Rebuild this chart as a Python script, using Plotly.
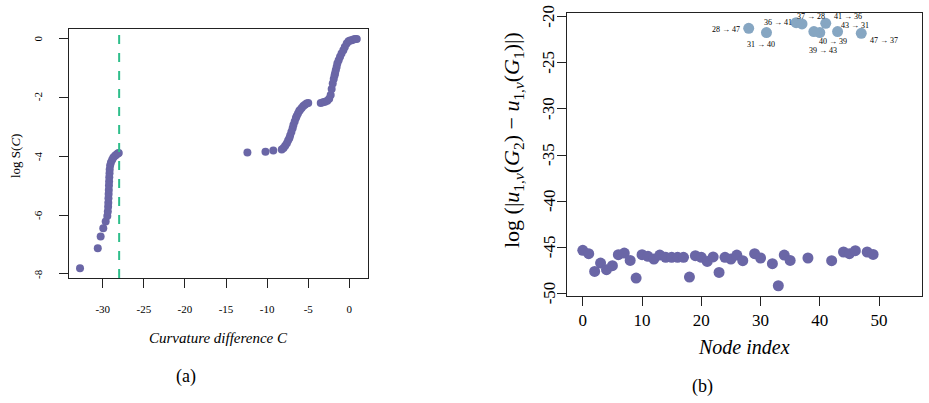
import plotly.graph_objects as go

# ---------------- data (a) ----------------
curv_diff = [
    -32.76, -30.6, -30.25, -29.93, -29.64, -29.44, -29.38, -29.34, -29.32, -29.3, -29.28,
    -29.26, -29.24, -29.22, -29.2, -29.17, -29.15, -29.1, -29.0, -28.85, -28.7, -28.5,
    -28.35, -28.17, -28.05,
    -12.4, -10.2, -9.25,
    -8.22, -8.0, -7.8, -7.6, -7.45, -7.3, -7.2, -7.05, -6.9, -6.8, -6.65, -6.5, -6.4,
    -6.25, -6.1, -6.0, -5.8, -5.6, -5.4, -5.2, -5.0,
    -3.48, -3.2, -2.95, -2.68, -2.45, -2.27, -2.15, -2.02, -1.9, -1.8, -1.74, -1.65,
    -1.55, -1.46, -1.3, -1.13, -0.95, -0.73, -0.55, -0.32, -0.1, 0.1, 0.29, 0.5, 0.7, 0.9,
]
log_surv = [
    -7.81, -7.13, -6.73, -6.45, -6.22, -6.03, -5.88, -5.72, -5.58, -5.43, -5.29,
    -5.15, -5.0, -4.86, -4.72, -4.58, -4.45, -4.32, -4.22, -4.12, -4.05, -3.99,
    -3.95, -3.91, -3.89,
    -3.88, -3.85, -3.81,
    -3.77, -3.72, -3.65, -3.56, -3.47, -3.39, -3.3, -3.18, -3.05, -2.94, -2.82, -2.7, -2.64,
    -2.55, -2.47, -2.43, -2.36, -2.3, -2.25, -2.21, -2.19,
    -2.19, -2.17, -2.15, -2.12, -2.05, -1.92, -1.72, -1.53, -1.38, -1.26, -1.19, -1.08,
    -0.97, -0.85, -0.74, -0.62, -0.51, -0.4, -0.29, -0.17, -0.1, -0.07, -0.06, -0.04, -0.02, -0.02,
]
threshold = -28

# ---------------- data (b) ----------------
node_low = [0, 1, 2, 3, 4, 5, 6, 7, 8, 9, 10, 11, 12, 13, 14, 15, 16, 17, 18, 19, 20,
            21, 22, 23, 24, 25, 26, 27, 29, 30, 32, 33, 34, 35, 38, 42, 44, 45, 46, 48, 49]
val_low = [-45.34, -45.70, -47.62, -46.72, -47.44, -47.0, -45.81, -45.63, -46.43, -48.34,
           -45.81, -45.99, -46.28, -45.85, -46.1, -46.1, -46.1, -46.1, -48.24, -45.92, -46.1,
           -46.54, -46.05, -47.73, -46.1, -46.28, -45.85, -46.46, -45.70, -46.17, -46.79,
           -49.18, -45.85, -46.43, -46.17, -46.46, -45.52, -45.70, -45.38, -45.52, -45.78]

node_high = [28, 31, 36, 37, 41, 43, 40, 39, 47]
val_high = [-21.26, -21.73, -20.65, -20.79, -20.72, -21.62, -21.73, -21.62, -21.80]
high_labels = ["28 → 47", "31 → 40", "36 → 41", "37 → 28", "41 → 36",
               "43 → 31", "40 → 39", "39 → 43", "47 → 37"]
# pixel offsets of the labels from their points (style)
label_shift = [(-23, -1), (-5, -12), (-18, 0), (9, 7), (22, 7),
               (17, 6), (13, -9), (9, -19), (23, -7)]

# tick labels
lx = [-30, -25, -20, -15, -10, -5, 0]
ly = [0, -2, -4, -6, -8]
rx = [0, 10, 20, 30, 40, 50]
ry = [-20, -25, -30, -35, -40, -45, -50]

PURPLE = "#6A66A6"
LIGHT = "#86A6C2"
GREEN = "#2EBE8A"
FONT = "Liberation Serif, Tinos, Times New Roman, serif"
TXT = "#000000"
W, H = 929, 403

fig = go.Figure()
fig.add_trace(go.Scatter(x=curv_diff, y=log_surv, mode="markers",
                         marker=dict(color=PURPLE, size=8), xaxis="x", yaxis="y",
                         showlegend=False, hoverinfo="skip"))
fig.add_trace(go.Scatter(x=node_low, y=val_low, mode="markers",
                         marker=dict(color=PURPLE, size=11), xaxis="x2", yaxis="y2",
                         showlegend=False))
fig.add_trace(go.Scatter(x=node_high, y=val_high, mode="markers",
                         marker=dict(color=LIGHT, size=11), xaxis="x2", yaxis="y2",
                         showlegend=False))

fig.add_shape(type="line", xref="x", yref="y domain", x0=threshold, x1=threshold,
              y0=0, y1=1, line=dict(color=GREEN, width=2, dash="dash"))

common = dict(showline=True, mirror=True, linecolor="#222", linewidth=1,
              ticks="outside", tickcolor="#222", ticklen=9, showgrid=False,
              zeroline=False)

fig.update_layout(
    width=W, height=H, margin=dict(l=0, r=0, t=0, b=0),
    paper_bgcolor="white", plot_bgcolor="white",
    font=dict(family=FONT, color=TXT),
    xaxis=dict(domain=[69 / W, 368 / W], range=[-34.1, 2.27], tickvals=lx,
               ticktext=[str(v) for v in lx], tickfont=dict(size=11, family=FONT, color=TXT),
               ticklabelstandoff=12, anchor="y", **common),
    yaxis=dict(domain=[(H - 278) / H, (H - 29) / H], range=[-8.14, 0.32], tickvals=ly,
               showticklabels=False, anchor="x", **common),
    xaxis2=dict(domain=[566.5 / W, 922.3 / W], range=[-2.75, 57.3], tickvals=rx,
                ticktext=[str(v) for v in rx], tickfont=dict(size=17, family=FONT, color=TXT),
                ticklabelstandoff=0, anchor="y2", **common),
    yaxis2=dict(domain=[(H - 296) / H, (H - 12.7) / H], range=[-50.29, -19.57],
                tickvals=ry, showticklabels=False, anchor="x2", **common),
)

# rotated y tick labels
for v in ly:
    fig.add_annotation(x=38 / W, y=v, xref="paper", yref="y", text=str(v), showarrow=False,
                       textangle=-90, xanchor="center", yanchor="middle",
                       font=dict(size=11, family=FONT, color=TXT))
for v in ry:
    fig.add_annotation(x=549 / W, y=v, xref="paper", yref="y2", text=str(v), showarrow=False,
                       textangle=-90, xanchor="center", yanchor="middle",
                       font=dict(size=17, family=FONT, color=TXT))

for xv, yv, t, (dx, dy) in zip(node_high, val_high, high_labels, label_shift):
    fig.add_annotation(x=xv, y=yv, xref="x2", yref="y2", text=t, showarrow=False,
                       xshift=dx, yshift=dy, font=dict(size=8, family=FONT, color=TXT))

def pa(text, px, py, size, angle=0):
    fig.add_annotation(x=px / W, y=(H - py) / H, xref="paper", yref="paper", text=text,
                       showarrow=False, textangle=angle,
                       font=dict(size=size, family=FONT, color=TXT),
                       xanchor="center", yanchor="middle")

pa("<i>Curvature difference C</i>", 218, 338, 15)
pa("log S(<i>C</i>)", 15, 156, 13, -90)
pa("<i>Node index</i>", 744, 347, 20)
pa("log (|<i>u</i><sub>1,<i>v</i></sub>(<i>G</i><sub>2</sub>) − "
   "<i>u</i><sub>1,<i>v</i></sub>(<i>G</i><sub>1</sub>)|)", 513, 140, 22, -90)
pa("(a)", 186, 376, 18)
pa("(b)", 702, 386, 18)

fig.write_html("out.html")
